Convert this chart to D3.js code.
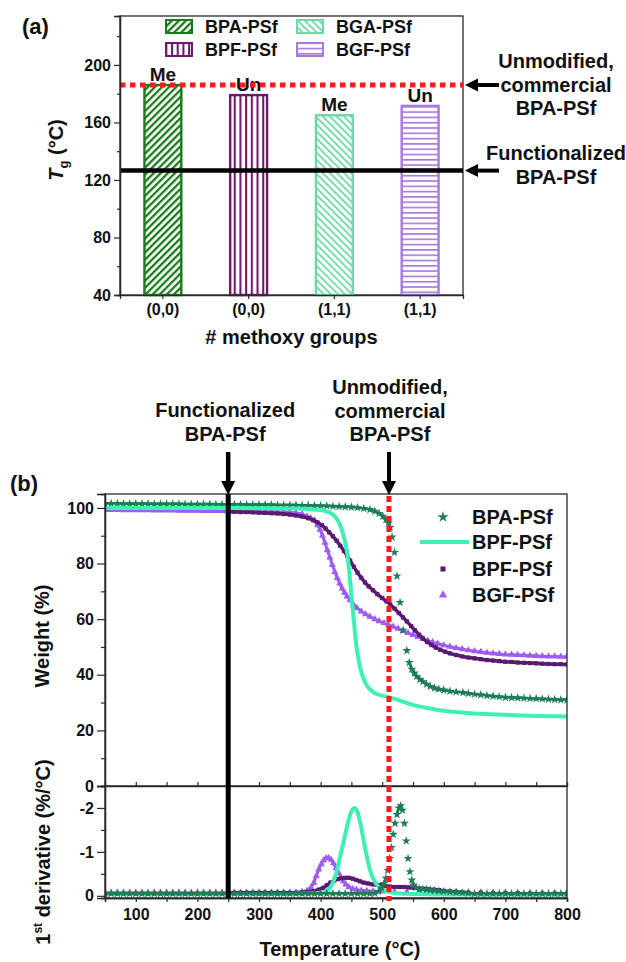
<!DOCTYPE html>
<html><head><meta charset="utf-8">
<script src="https://cdn.jsdelivr.net/npm/d3@7"></script>
<style>
body{margin:0;background:#fff}
svg{display:block}
text{font-family:'Liberation Sans',Arial,Helvetica,sans-serif;font-weight:bold;fill:#111}
</style></head>
<body><svg id="c" width="626" height="962"></svg>
<script>
// ---------------- DATA ----------------
// Panel (a): glass transition temperatures
const barCats   = ["BPA-PSf","BPF-PSf","BGA-PSf","BGF-PSf"];
const barTicks  = ["(0,0)","(0,0)","(1,1)","(1,1)"];
const barTg     = [186, 179, 165, 171.5];
const barNotes  = ["Me","Un","Me","Un"];
const tgCommercial = 186;
const tgFunctional = 126.5;
const tgTicks   = [40,80,120,160,200];
const tgMinor   = [60,100,140,180,220];

// Panel (b): TGA, [temperature °C, weight %]
const bpaWeight = [[50,101.6],[60,101.6],[70,101.6],[80,101.5],[90,101.5],[100,101.5],[110,101.5],[120,101.5],[130,101.4],[140,101.4],[150,101.4],[160,101.4],[170,101.4],[180,101.3],[190,101.3],[200,101.3],[210,101.3],[220,101.3],[230,101.2],[240,101.2],[250,101.2],[260,101.2],[270,101.2],[280,101.1],[290,101.1],[300,101.1],[310,101.1],[320,101.1],[330,101.0],[340,101.0],[350,101.0],[360,101.0],[370,100.9],[380,100.9],[390,100.8],[400,100.8],[410,100.7],[420,100.6],[430,100.5],[440,100.4],[450,100.3],[460,100.1],[470,99.8],[480,99.4],[488,98.8],[495,98.0],[501,97.0],[506,95.8],[510,94.5],[513,93.0],[516,89.5],[520,84.0],[524,75.5],[529,66.0],[534,56.0],[540,48.7],[544,44.4],[548,42.0],[552,40.6],[556,39.4],[561,38.3],[566,37.5],[572,36.6],[578,35.8],[585,35.2],[592,34.8],[600,34.5],[610,34.1],[620,33.8],[631,33.6],[640,33.3],[650,33.0],[660,32.8],[670,32.5],[680,32.3],[690,32.1],[700,31.9],[710,31.8],[720,31.7],[730,31.6],[740,31.5],[750,31.4],[760,31.3],[770,31.2],[780,31.1],[790,31.0],[800,31.0]];
const bpfLineWeight = [[50,100.0],[100,100.0],[150,100.0],[200,100.0],[250,100.0],[300,99.9],[350,99.8],[380,99.6],[400,99.2],[410,98.7],[420,97.6],[428,95.5],[434,92.5],[439,88.5],[443,84.0],[447,76.0],[451,66.0],[455,57.0],[458,50.5],[462,45.0],[466,41.0],[470,38.5],[475,36.2],[480,34.8],[488,33.4],[500,32.5],[513,31.8],[530,30.6],[556,28.8],[580,27.8],[610,26.8],[650,26.1],[700,25.6],[750,25.2],[800,25.0]];
const bpfWeight = [[250,98.6],[260,98.6],[270,98.5],[280,98.5],[290,98.4],[300,98.3],[310,98.2],[320,98.1],[330,98.0],[340,97.8],[350,97.6],[360,97.3],[370,96.9],[380,96.3],[388,95.6],[395,94.8],[402,93.8],[408,92.6],[414,91.2],[420,89.8],[426,88.2],[432,86.4],[438,84.5],[443,82.8],[448,81.0],[454,78.8],[460,76.7],[466,74.9],[472,73.2],[478,71.8],[485,70.4],[492,69.0],[500,67.6],[507,66.4],[513,65.3],[520,63.8],[527,62.2],[534,60.6],[540,59.2],[547,57.5],[553,56.0],[560,54.4],[566,53.1],[573,51.8],[580,50.7],[587,49.8],[594,49.0],[602,48.3],[610,47.7],[620,47.1],[630,46.6],[640,46.2],[650,45.9],[660,45.6],[670,45.3],[680,45.1],[690,44.9],[700,44.7],[710,44.6],[720,44.4],[730,44.3],[740,44.2],[750,44.1],[760,44.0],[770,43.9],[780,43.8],[790,43.8],[800,43.7]];
const bgfWeight = [[50,99.3],[60,99.3],[70,99.3],[80,99.2],[90,99.2],[100,99.2],[110,99.2],[120,99.2],[130,99.1],[140,99.1],[150,99.1],[160,99.1],[170,99.0],[180,99.0],[190,99.0],[200,99.0],[210,98.9],[220,98.9],[230,98.9],[240,98.9],[250,98.8],[260,98.8],[270,98.8],[280,98.7],[290,98.7],[300,98.7],[310,98.6],[320,98.6],[330,98.5],[340,98.5],[350,98.4],[360,98.2],[370,97.8],[378,97.0],[384,96.3],[390,95.5],[395,93.8],[399,92.2],[403,90.0],[407,87.5],[411,84.8],[415,82.2],[419,79.5],[423,77.0],[427,74.8],[431,72.8],[435,71.0],[439,69.5],[443,68.2],[448,66.8],[453,65.4],[459,64.0],[466,62.8],[473,61.8],[480,60.9],[488,60.0],[495,59.3],[503,58.6],[510,58.0],[518,57.3],[526,56.6],[534,55.8],[542,55.0],[550,54.3],[558,53.6],[566,52.9],[574,52.3],[582,51.7],[590,51.2],[600,50.6],[610,50.1],[620,49.6],[630,49.2],[640,48.8],[650,48.5],[660,48.2],[670,47.9],[680,47.7],[690,47.5],[700,47.3],[710,47.2],[720,47.1],[730,47.0],[740,46.9],[750,46.8],[760,46.7],[770,46.6],[780,46.6],[790,46.5],[800,46.5]];

// Panel (b): first derivative, [temperature °C, %/°C]
const bpaDeriv = [[50,-0.05],[60,-0.05],[70,-0.05],[80,-0.05],[90,-0.05],[100,-0.05],[110,-0.05],[120,-0.05],[130,-0.05],[140,-0.05],[150,-0.05],[160,-0.05],[170,-0.05],[180,-0.05],[190,-0.05],[200,-0.05],[210,-0.05],[220,-0.05],[230,-0.05],[240,-0.05],[250,-0.05],[260,-0.05],[270,-0.05],[280,-0.05],[290,-0.05],[300,-0.05],[310,-0.05],[320,-0.05],[330,-0.05],[340,-0.05],[350,-0.05],[360,-0.05],[370,-0.05],[380,-0.05],[390,-0.05],[400,-0.05],[410,-0.05],[420,-0.05],[430,-0.05],[440,-0.05],[450,-0.05],[460,-0.05],[470,-0.05],[480,-0.05],[488,-0.06],[494,-0.1],[499,-0.18],[503,-0.28],[506,-0.4],[509,-0.58],[512,-0.85],[515,-1.1],[518,-1.4],[521,-1.65],[524,-1.85],[527,-2.0],[530,-2.05],[533,-1.95],[536,-1.65],[539,-1.25],[542,-0.85],[545,-0.55],[548,-0.36],[551,-0.24],[555,-0.19],[560,-0.16],[566,-0.15],[572,-0.14],[578,-0.13],[585,-0.12],[592,-0.11],[600,-0.1],[610,-0.09],[620,-0.08],[630,-0.07],[640,-0.06],[650,-0.05],[660,-0.05],[670,-0.05],[680,-0.05],[690,-0.05],[700,-0.05],[710,-0.05],[720,-0.05],[730,-0.05],[740,-0.05],[750,-0.05],[760,-0.05],[770,-0.05],[780,-0.05],[790,-0.05],[800,-0.05]];
const bpfLineDeriv = [[50,-0.04],[100,-0.04],[150,-0.04],[200,-0.04],[250,-0.04],[300,-0.04],[350,-0.04],[380,-0.05],[400,-0.07],[410,-0.12],[415,-0.18],[420,-0.3],[425,-0.5],[431,-0.85],[436,-1.15],[440,-1.4],[445,-1.7],[450,-1.92],[455,-2.0],[460,-1.9],[465,-1.62],[470,-1.25],[475,-0.9],[480,-0.6],[485,-0.4],[490,-0.28],[496,-0.18],[510,-0.09],[524,-0.06],[560,-0.04],[600,-0.03],[700,-0.03],[800,-0.03]];
const bpfDeriv = [[250,-0.07],[260,-0.07],[270,-0.07],[280,-0.07],[290,-0.07],[300,-0.07],[310,-0.07],[320,-0.07],[330,-0.07],[340,-0.07],[350,-0.07],[360,-0.07],[370,-0.08],[380,-0.09],[390,-0.11],[397,-0.14],[404,-0.18],[410,-0.24],[416,-0.3],[422,-0.35],[428,-0.38],[434,-0.4],[440,-0.41],[446,-0.41],[452,-0.39],[458,-0.36],[464,-0.33],[470,-0.3],[477,-0.28],[484,-0.26],[491,-0.25],[498,-0.24],[505,-0.22],[512,-0.21],[520,-0.2],[528,-0.2],[536,-0.2],[544,-0.19],[552,-0.18],[560,-0.17],[568,-0.16],[576,-0.15],[584,-0.14],[592,-0.13],[600,-0.11],[610,-0.1],[620,-0.09],[630,-0.08],[640,-0.07],[660,-0.07],[680,-0.06],[700,-0.06],[720,-0.06],[740,-0.05],[760,-0.05],[780,-0.05],[800,-0.05]];
const bgfDeriv = [[50,-0.07],[60,-0.07],[70,-0.07],[80,-0.07],[90,-0.07],[100,-0.07],[110,-0.07],[120,-0.07],[130,-0.07],[140,-0.07],[150,-0.07],[160,-0.07],[170,-0.07],[180,-0.07],[190,-0.07],[200,-0.07],[210,-0.07],[220,-0.07],[230,-0.07],[240,-0.07],[250,-0.07],[260,-0.07],[270,-0.07],[280,-0.07],[290,-0.07],[300,-0.07],[310,-0.07],[320,-0.07],[330,-0.07],[340,-0.07],[350,-0.07],[360,-0.07],[370,-0.09],[378,-0.12],[384,-0.18],[389,-0.3],[393,-0.45],[397,-0.6],[401,-0.72],[405,-0.81],[409,-0.86],[413,-0.86],[417,-0.82],[421,-0.74],[425,-0.63],[429,-0.52],[433,-0.42],[437,-0.33],[441,-0.26],[446,-0.2],[452,-0.16],[458,-0.14],[466,-0.12],[475,-0.11],[485,-0.1],[500,-0.1],[520,-0.09],[540,-0.09],[560,-0.09],[580,-0.08],[600,-0.08],[620,-0.08],[640,-0.07],[660,-0.07],[680,-0.07],[700,-0.07],[720,-0.06],[740,-0.06],[760,-0.06],[780,-0.06],[800,-0.06]];

const tempTicks  = [100,200,300,400,500,600,700,800];
const tempMinor  = [150,250,350,450,550,650,750];
const wTicks     = [0,20,40,60,80,100];
const wMinor     = [10,30,50,70,90];
const dTicks     = [-2,-1,0];
const dMinor     = [-1.5,-0.5];
const tFunctional = 250;
const tCommercial = 511;
const legendB = ["BPA-PSf","BPF-PSf","BPF-PSf","BGF-PSf"];

// ---------------- STYLE ----------------
const cA = {"BPA-PSf":"#1b7a1b","BPF-PSf":"#6c1a6c","BGA-PSf":"#6fd8a6","BGF-PSf":"#a678e0"};
const cB = {bpa:"#1c7d56", line:"#3ff0b6", bpf:"#5a1a72", bgf:"#a05cf0"};
const RED = "#ff1a1a", AX = "#2a2a2a";

const svg = d3.select("#c");
const defs = svg.append("defs");

// ---------------- PANEL (a) ----------------
const ax0=120, ax1=463, ay0=16, ay1=295;
const xA = d3.scaleBand().domain(barCats).range([ax0,ax1]).paddingInner(0.57).paddingOuter(0.285);
const yA = d3.scaleLinear().domain([40,234]).range([ay1,ay0]);

function pattern(id, color, size, sw, angle){
  const p = defs.append("pattern").attr("id",id).attr("patternUnits","userSpaceOnUse")
    .attr("width",size).attr("height",size).attr("patternTransform",`rotate(${angle})`);
  p.append("rect").attr("width",size).attr("height",size).attr("fill","#fff");
  p.append("rect").attr("x",0).attr("y",0).attr("width",sw).attr("height",size).attr("fill",color);
}
const patId = {"BPA-PSf":"pBPA","BPF-PSf":"pBPF","BGA-PSf":"pBGA","BGF-PSf":"pBGF"};
pattern("pBPA", cA["BPA-PSf"], 5, 2.3, 45);
pattern("pBPF", cA["BPF-PSf"], 5.7, 2.1, 0);
pattern("pBGA", cA["BGA-PSf"], 5, 1.8, -45);
pattern("pBGF", cA["BGF-PSf"], 5.3, 1.6, 90);

const gA = svg.append("g");
gA.append("rect").attr("x",ax0).attr("y",ay0).attr("width",ax1-ax0).attr("height",ay1-ay0)
  .attr("fill","none").attr("stroke",AX).attr("stroke-width",1.3);

gA.selectAll("rect.bar").data(barCats).join("rect").attr("class","bar")
  .attr("x",d=>xA(d)).attr("width",xA.bandwidth())
  .attr("y",(d,i)=>yA(barTg[i])).attr("height",(d,i)=>yA(40)-yA(barTg[i]))
  .attr("fill",d=>`url(#${patId[d]})`).attr("stroke",d=>cA[d]).attr("stroke-width",2.4);

gA.selectAll("text.note").data(barCats).join("text").attr("class","note")
  .attr("x",d=>xA(d)+xA.bandwidth()/2).attr("y",(d,i)=>yA(barTg[i])-4)
  .attr("text-anchor","middle").attr("font-size",19).text((d,i)=>barNotes[i]);

// reference lines
gA.append("line").attr("x1",ax0).attr("x2",ax1).attr("y1",yA(tgCommercial)).attr("y2",yA(tgCommercial))
  .attr("stroke",RED).attr("stroke-width",5).attr("stroke-dasharray","5.5,4.5");
gA.append("line").attr("x1",ax0).attr("x2",ax1).attr("y1",yA(tgFunctional)).attr("y2",yA(tgFunctional))
  .attr("stroke","#000").attr("stroke-width",4.5);

// axes
gA.append("g").attr("transform",`translate(${ax0},0)`)
  .call(d3.axisLeft(yA).tickValues(tgTicks).tickSize(6).tickPadding(3));
gA.append("g").attr("transform",`translate(${ax0},0)`)
  .call(d3.axisLeft(yA).tickValues(tgMinor).tickSize(3).tickFormat(""));
gA.append("g").attr("transform",`translate(0,${ay1})`)
  .call(d3.axisBottom(xA).tickSize(4).tickPadding(5).tickFormat((d,i)=>barTicks[i]));
gA.selectAll(".domain").attr("stroke",AX).attr("stroke-width",1.3);
gA.selectAll(".tick line").attr("stroke",AX).attr("stroke-width",1.2);
gA.selectAll(".tick text").attr("font-size",16).attr("fill","#111")
  .attr("font-family","'Liberation Sans',Arial,sans-serif").attr("font-weight","bold");

// legend (a)
const legA = gA.append("g");
barCats.forEach((c,i)=>{
  const col = i<2?0:1, row = i%2;
  const lx = [166,297][col], ly = [20,43][row];
  legA.append("rect").attr("x",lx).attr("y",ly).attr("width",26).attr("height",13)
    .attr("fill",`url(#${patId[c]})`).attr("stroke",cA[c]).attr("stroke-width",2);
  legA.append("text").attr("x",lx+39).attr("y",ly+13).attr("font-size",18).text(c);
});

// titles
svg.append("text").attr("x",22).attr("y",34).attr("font-size",22).text("(a)");
const tg = svg.append("text").attr("transform","translate(63,150) rotate(-90)").attr("text-anchor","middle").attr("font-size",20);
tg.append("tspan").attr("font-style","italic").text("T");
tg.append("tspan").attr("font-size",13).attr("dy",5).text("g");
tg.append("tspan").attr("dy",-5).text(" (°C)");
svg.append("text").attr("x",(ax0+ax1)/2).attr("y",344).attr("text-anchor","middle").attr("font-size",20).text("# methoxy groups");

function arrow(g, x1,y1,x2,y2, w, head, hw){
  const dx=x2-x1, dy=y2-y1, L=Math.hypot(dx,dy), ux=dx/L, uy=dy/L;
  const bx=x2-ux*head, by=y2-uy*head;
  g.append("line").attr("x1",x1).attr("y1",y1).attr("x2",bx+ux).attr("y2",by+uy)
    .attr("stroke","#000").attr("stroke-width",w);
  g.append("path").attr("d",`M${x2},${y2}L${bx-uy*hw},${by+ux*hw}L${bx+uy*hw},${by-ux*hw}Z`).attr("fill","#000");
}
arrow(svg, 499, yA(tgCommercial), 465, yA(tgCommercial), 4, 13, 6.5);
arrow(svg, 499, yA(tgFunctional), 465, yA(tgFunctional), 4, 13, 6.5);
function block(x, y0, lines){
  lines.forEach((t,i)=>svg.append("text").attr("x",x).attr("y",y0+i*23.5).attr("text-anchor","middle").attr("font-size",20).text(t));
}
block(556, 68, ["Unmodified,","commercial","BPA-PSf"]);
block(556, 160, ["Functionalized","BPA-PSf"]);

// ---------------- PANEL (b) ----------------
const bx0=105, bx1=567, by0=494, byM=786, by1=898;
const xB = d3.scaleLinear().domain([50,800]).range([bx0,bx1]);
const yW = d3.scaleLinear().domain([0,105]).range([byM,by0]);
const yD = d3.scaleLinear().domain([0.05,-2.5]).range([by1,byM]);

defs.append("clipPath").attr("id","clipTop").append("rect").attr("x",bx0).attr("y",by0).attr("width",bx1-bx0).attr("height",byM-by0);
defs.append("clipPath").attr("id","clipBot").append("rect").attr("x",bx0).attr("y",byM).attr("width",bx1-bx0).attr("height",by1-byM);

function markerSeries(g, data, y, sym, size, color, lw, maxGap){
  const pts = data.map(d=>[xB(d[0]), y(d[1])]);
  const runs = []; let cur=[pts[0]];
  for(let i=1;i<pts.length;i++){
    const a=pts[i-1], b=pts[i];
    if(Math.hypot(b[0]-a[0],b[1]-a[1])<maxGap) cur.push(b); else { runs.push(cur); cur=[b]; }
  }
  runs.push(cur);
  const ln = d3.line();
  runs.filter(r=>r.length>1).forEach(r=>g.append("path").attr("d",ln(r)).attr("fill","none")
    .attr("stroke",color).attr("stroke-width",lw).attr("stroke-linejoin","round"));
  g.selectAll(null).data(pts).join("path")
    .attr("transform",p=>`translate(${p[0]},${p[1]})`)
    .attr("d",d3.symbol().type(sym).size(size)).attr("fill",color);
}
function lineSeries(g, data, y, color, lw){
  g.append("path").datum(data).attr("fill","none").attr("stroke",color).attr("stroke-width",lw)
    .attr("d",d3.line().x(d=>xB(d[0])).y(d=>y(d[1])).curve(d3.curveMonotoneX));
}

const gT = svg.append("g").attr("clip-path","url(#clipTop)");
markerSeries(gT, bgfWeight, yW, d3.symbolTriangle, 22, cB.bgf, 3, 8);
markerSeries(gT, bpfWeight, yW, d3.symbolSquare, 18, cB.bpf, 3.5, 9);
markerSeries(gT, bpaWeight, yW, d3.symbolStar, 26, cB.bpa, 2.5, 8);
lineSeries(gT, bpfLineWeight, yW, cB.line, 4);

const gD = svg.append("g").attr("clip-path","url(#clipBot)");
markerSeries(gD, bgfDeriv, yD, d3.symbolTriangle, 22, cB.bgf, 3, 8);
markerSeries(gD, bpfDeriv, yD, d3.symbolSquare, 18, cB.bpf, 3.5, 9);
lineSeries(gD, bpfLineDeriv, yD, cB.line, 4);
markerSeries(gD, bpaDeriv, yD, d3.symbolStar, 26, cB.bpa, 2.5, 8);

// boxes
const gBx = svg.append("g");
gBx.append("rect").attr("x",bx0).attr("y",by0).attr("width",bx1-bx0).attr("height",by1-by0)
  .attr("fill","none").attr("stroke",AX).attr("stroke-width",1.3);
gBx.append("line").attr("x1",bx0).attr("x2",bx1).attr("y1",byM).attr("y2",byM).attr("stroke",AX).attr("stroke-width",1.3);

// axes (b)
const gAx = svg.append("g");
gAx.append("g").attr("transform",`translate(${bx0},0)`).call(d3.axisLeft(yW).tickValues(wTicks).tickSize(8).tickPadding(3));
gAx.append("g").attr("transform",`translate(${bx0},0)`).call(d3.axisLeft(yW).tickValues(wMinor).tickSize(4).tickFormat(""));
gAx.append("g").attr("transform",`translate(${bx0},0)`).call(d3.axisLeft(yD).tickValues(dTicks).tickSize(8).tickPadding(3).tickFormat(d=>String(d)));
gAx.append("g").attr("transform",`translate(${bx0},0)`).call(d3.axisLeft(yD).tickValues(dMinor).tickSize(4).tickFormat(""));
gAx.append("g").attr("transform",`translate(0,${byM})`).call(d3.axisTop(xB).tickValues(tempTicks.concat(tempMinor)).tickSize(4).tickFormat(""));
gAx.append("g").attr("transform",`translate(0,${by1})`).call(d3.axisBottom(xB).tickValues(tempTicks).tickSize(4).tickPadding(7));
gAx.append("g").attr("transform",`translate(0,${by1})`).call(d3.axisBottom(xB).tickValues(tempMinor).tickSize(4).tickFormat(""));
gAx.selectAll(".domain").attr("stroke",AX).attr("stroke-width",1.3);
gAx.selectAll(".tick line").attr("stroke",AX).attr("stroke-width",1.2);
gAx.selectAll(".tick text").attr("font-size",16).attr("fill","#111")
  .attr("font-family","'Liberation Sans',Arial,sans-serif").attr("font-weight","bold");

// vertical reference lines (b)
const gV = svg.append("g");
gV.append("line").attr("x1",xB(tFunctional)).attr("x2",xB(tFunctional)).attr("y1",by0).attr("y2",by1)
  .attr("stroke","#000").attr("stroke-width",5);
arrow(gV, xB(tFunctional), 452, xB(tFunctional), by0+1, 4.5, 14, 7);
gV.append("line").attr("x1",xB(tCommercial)).attr("x2",xB(tCommercial)).attr("y1",by0+2).attr("y2",by1+3)
  .attr("stroke",RED).attr("stroke-width",5).attr("stroke-dasharray","6,4");
arrow(gV, xB(tCommercial), 452, xB(tCommercial), by0+1, 4, 14, 7);
block(xB(tFunctional)-3, 417, ["Functionalized","BPA-PSf"]);
block(xB(tCommercial)+1, 394, ["Unmodified,","commercial","BPA-PSf"]);

// legend (b)
const legB = svg.append("g");
const legY = [524,549,576,602];
legB.append("path").attr("transform",`translate(443,${legY[0]-7})`).attr("d",d3.symbol().type(d3.symbolStar).size(40)).attr("fill",cB.bpa);
legB.append("line").attr("x1",420).attr("x2",469).attr("y1",legY[1]-7).attr("y2",legY[1]-7).attr("stroke",cB.line).attr("stroke-width",4);
legB.append("path").attr("transform",`translate(443,${legY[2]-7})`).attr("d",d3.symbol().type(d3.symbolSquare).size(26)).attr("fill",cB.bpf);
legB.append("path").attr("transform",`translate(443,${legY[3]-7})`).attr("d",d3.symbol().type(d3.symbolTriangle).size(30)).attr("fill",cB.bgf);
legendB.forEach((t,i)=>legB.append("text").attr("x",472).attr("y",legY[i]).attr("font-size",20).text(t));

// titles (b)
svg.append("text").attr("x",10).attr("y",491).attr("font-size",22).text("(b)");
svg.append("text").attr("transform","translate(49,636) rotate(-90)").attr("text-anchor","middle").attr("font-size",20).text("Weight (%)");
const dt = svg.append("text").attr("transform","translate(50,852) rotate(-90)").attr("text-anchor","middle").attr("font-size",20);
dt.append("tspan").text("1");
dt.append("tspan").attr("font-size",12).attr("dy",-8).text("st");
dt.append("tspan").attr("dy",8).text(" derivative (%/°C)");
svg.append("text").attr("x",340).attr("y",956).attr("text-anchor","middle").attr("font-size",20).text("Temperature (°C)");
</script>
</body></html>
